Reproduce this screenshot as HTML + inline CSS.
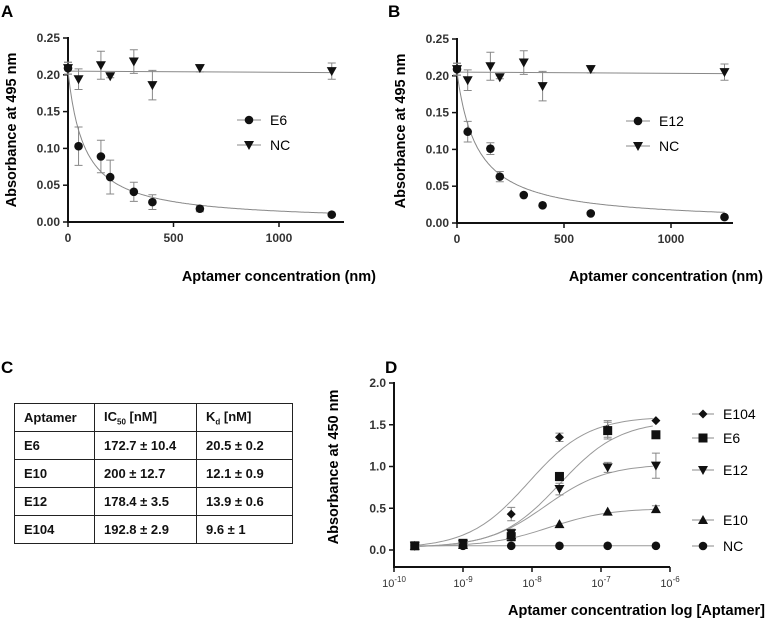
<!DOCTYPE html>
<html><head><meta charset="utf-8"><style>
body{margin:0;background:#fff;width:767px;height:621px;overflow:hidden;font-family:"Liberation Sans",sans-serif}
svg{position:absolute;left:0;top:0}
table{position:absolute;left:14px;top:403px;border-collapse:collapse;font-family:"Liberation Sans",sans-serif;font-weight:bold;font-size:13px;color:#111}
td{border:1.5px solid #222;height:27px;padding:0 0 0 9px;white-space:nowrap}
</style></head><body>
<svg id="fig" width="767" height="621" xmlns="http://www.w3.org/2000/svg" font-family="Liberation Sans, sans-serif"></svg>
<table>
<tr><td style="width:70px">Aptamer</td><td style="width:92px">IC<sub style="font-size:8px">50</sub> [nM]</td><td style="width:86px">K<sub style="font-size:8px">d</sub> [nM]</td></tr>
<tr><td>E6</td><td>172.7 ± 10.4</td><td>20.5 ± 0.2</td></tr>
<tr><td>E10</td><td>200 ± 12.7</td><td>12.1 ± 0.9</td></tr>
<tr><td>E12</td><td>178.4 ± 3.5</td><td>13.9 ± 0.6</td></tr>
<tr><td>E104</td><td>192.8 ± 2.9</td><td>9.6 ± 1</td></tr>
</table>
<script>
// Panel A/B data
const concAB=[0,50,156,200,312,400,625,1250];
const e6A=[0.209,0.103,0.089,0.061,0.041,0.027,0.018,0.010];
const e6AErr=[0.008,0.026,0.022,0.023,0.013,0.010,0.004,0.001];
const ncA=[0.209,0.194,0.213,0.198,0.218,0.186,0.209,0.205];
const ncAErr=[0.008,0.014,0.019,0.002,0.016,0.020,0.005,0.011];
const e12B=[0.209,0.124,0.101,0.063,0.038,0.024,0.013,0.008];
const e12BErr=[0.008,0.014,0.008,0.007,0.001,0.001,0.001,0.001];
const ncB=[0.209,0.194,0.213,0.198,0.218,0.186,0.209,0.205];
const ncBErr=[0.008,0.014,0.019,0.002,0.016,0.020,0.005,0.011];
const fitKA=[0.205,78]; const fitKB=[0.205,95];
const yTicksAB=["0.00","0.05","0.10","0.15","0.20","0.25"];
const xTicksAB=[0,500,1000];
// Panel D data
const concD=[2e-10,1e-9,5e-9,2.5e-8,1.25e-7,6.25e-7];
const e104D=[0.05,0.08,0.43,1.35,1.45,1.55];
const e6D=[0.05,0.08,0.16,0.88,1.43,1.38];
const e12D=[0.05,0.07,0.20,0.73,0.99,1.01];
const e10D=[0.05,0.06,0.18,0.31,0.46,0.49];
const ncD=[0.05,0.05,0.05,0.05,0.05,0.05];
const errD=[[0,0,0.08,0.05,0.1,0],[0,0,0.05,0.05,0.1,0],[0,0,0.05,0.07,0.06,0.15],[0,0,0,0,0,0.04],[0,0,0,0,0,0]];
// fit params: bottom, top, logEC50, hill
const fitD=[[0.02,1.6,-8.05,1.0],[0.03,1.55,-7.6,1.0],[0.03,1.03,-7.8,1.0],[0.04,0.5,-7.75,1.0],[0.05,0.05,-8,1]];
const yTicksD=["0.0","0.5","1.0","1.5","2.0"];
const xTicksD=[-10,-9,-8,-7,-6];
const namesD=["E104","E6","E12","E10","NC"];

const svg=document.getElementById('fig');const NS="http://www.w3.org/2000/svg";
function el(t,a,name,txt){const e=document.createElementNS(NS,t);for(const k in a)e.setAttribute(k,a[k]);


if(txt!==undefined)e.textContent=txt;svg.appendChild(e);return e;}
function marker(shape,x,y,name){
 if(shape==='circle')el('circle',{cx:x,cy:y,r:4.3,fill:'#111'},name);
 else if(shape==='tri-down')el('path',{d:`M${x-5},${y-4}L${x+5},${y-4}L${x},${y+5}Z`,fill:'#111'},name);
 else if(shape==='tri-up')el('path',{d:`M${x-5},${y+4}L${x+5},${y+4}L${x},${y-5}Z`,fill:'#111'},name);
 else if(shape==='square')el('rect',{x:x-4.5,y:y-4.5,width:9,height:9,fill:'#111'},name);
 else if(shape==='diamond')el('path',{d:`M${x},${y-4.5}L${x+4.5},${y}L${x},${y+4.5}L${x-4.5},${y}Z`,fill:'#111'},name);
}
function errbar(x,y1,y2,name){if(Math.abs(y2-y1)<1)return;el('path',{d:`M${x},${y1}V${y2}M${x-4},${y1}H${x+4}M${x-4},${y2}H${x+4}`,stroke:'#888','stroke-width':1,fill:'none'},name);}

function panelAB(o){
 const X=v=>o.x0+(v/1000)*(o.x1000-o.x0), Y=v=>o.y0-(v/0.25)*(o.y0-o.y25);
 el('text',{x:o.lx,y:17,'font-size':17,'font-weight':'bold'},o.id+'-panel-label',o.id);
 el('path',{d:`M${o.x0},${o.y25-1}V${o.y0}H${o.xe}`,stroke:'#111','stroke-width':2,fill:'none'},o.id+'-axes');
 yTicksAB.forEach((t,i)=>{const y=Y(i*0.05);el('line',{x1:o.x0-5,x2:o.x0,y1:y,y2:y,stroke:'#111','stroke-width':1.5},o.id+'-y-tick');
  el('text',{x:o.x0-8,y:y+4,'font-size':12,'font-weight':'bold','text-anchor':'end',fill:'#333'},o.id+'-y-tick-label',t);});
 xTicksAB.forEach(t=>{const x=X(t);el('line',{x1:x,x2:x,y1:o.y0,y2:o.y0+5,stroke:'#111','stroke-width':1.5},o.id+'-x-tick');
  el('text',{x:x,y:o.y0+20,'font-size':12,'font-weight':'bold','text-anchor':'middle',fill:'#333'},o.id+'-x-tick-label',t);});
 el('text',{x:o.x0-52,y:(o.y0+o.y25)/2,'font-size':14.5,'font-weight':'bold','text-anchor':'middle',transform:`rotate(-90 ${o.x0-52} ${(o.y0+o.y25)/2})`},o.id+'-y-axis-title','Absorbance at 495 nm');
 el('text',{x:o.xt,y:281,'font-size':14.5,'font-weight':'bold','text-anchor':'end'},o.id+'-x-axis-title','Aptamer concentration (nm)');
 let d='';for(let v=0;v<=1250;v+=5){d+=(v?'L':'M')+X(v).toFixed(1)+','+Y(o.fit[0]*o.fit[1]/(o.fit[1]+v)).toFixed(1);}
 el('path',{d,stroke:'#888','stroke-width':1,fill:'none'},o.id+'-fit-curve');
 el('path',{d:`M${X(0)},${Y(0.205)}L${X(1250)},${Y(0.203)}`,stroke:'#888','stroke-width':1,fill:'none'},o.id+'-nc-fit-line');
 concAB.forEach((c,i)=>{errbar(X(c),Y(o.nc[i]-o.ncE[i]),Y(o.nc[i]+o.ncE[i]),o.id+'-nc-error');marker('tri-down',X(c),Y(o.nc[i]),o.id+'-nc-point');
  errbar(X(c),Y(o.s[i]-o.sE[i]),Y(o.s[i]+o.sE[i]),o.id+'-error');marker('circle',X(c),Y(o.s[i]),o.id+'-'+o.name.toLowerCase()+'-point');});
 [[o.name,'circle',o.ly],['NC','tri-down',o.ly+25]].forEach(([n,s,y])=>{el('line',{x1:o.mx-12,x2:o.mx+12,y1:y,y2:y,stroke:'#888'},o.id+'-legend-line');
  marker(s,o.mx,y,o.id+'-legend-marker');el('text',{x:o.mx+21,y:y+5,'font-size':14},o.id+'-legend-entry',n);});
}
panelAB({id:'A',lx:1,x0:68,x1000:279,xe:344,y0:222,y25:38,xt:376,s:e6A,sE:e6AErr,nc:ncA,ncE:ncAErr,fit:fitKA,name:'E6',mx:249,ly:120});
panelAB({id:'B',lx:388,x0:457,x1000:671,xe:733,y0:223,y25:39,xt:763,s:e12B,sE:e12BErr,nc:ncB,ncE:ncBErr,fit:fitKB,name:'E12',mx:638,ly:121});

el('text',{x:1,y:373,'font-size':17,'font-weight':'bold'},'C-panel-label','C');
(function(){
 const x0=394,dec=69,y0=550,per=41.75;
 const X=l=>x0+(l+10)*dec, Y=v=>y0-v/0.5*per;
 el('text',{x:385,y:373,'font-size':17,'font-weight':'bold'},'D-panel-label','D');
 el('path',{d:`M${x0},${Y(2)-1}V567H670`,stroke:'#111','stroke-width':2,fill:'none'},'D-axes');
 yTicksD.forEach((t,i)=>{const y=Y(i*0.5);el('line',{x1:x0-5,x2:x0,y1:y,y2:y,stroke:'#111','stroke-width':1.5},'D-y-tick');
  el('text',{x:x0-8,y:y+4,'font-size':12,'font-weight':'bold','text-anchor':'end',fill:'#333'},'D-y-tick-label',t);});
 xTicksD.forEach(t=>{const x=X(t);el('line',{x1:x,x2:x,y1:567,y2:572,stroke:'#111','stroke-width':1.5},'D-x-tick');
  const tx=el('text',{x:x,y:587,'font-size':11,'text-anchor':'middle',fill:'#333'},'D-x-tick-label');
  tx.textContent='10';const ts=document.createElementNS(NS,'tspan');ts.setAttribute('dy','-5');ts.setAttribute('font-size','8');ts.textContent=String(t);tx.appendChild(ts);});
 el('text',{x:338,y:467,'font-size':14.5,'font-weight':'bold','text-anchor':'middle',transform:'rotate(-90 338 467)'},'D-y-axis-title','Absorbance at 450 nm');
 el('text',{x:765,y:615,'font-size':14.5,'font-weight':'bold','text-anchor':'end'},'D-x-axis-title','Aptamer concentration log [Aptamer]');
 const shapes=['diamond','square','tri-down','tri-up','circle'];const series=[e104D,e6D,e12D,e10D,ncD];
 const ly=[414,438,470,520,546];
 series.forEach((s,k)=>{const p=fitD[k];let d='';
  for(let l=Math.log10(2e-10);l<=Math.log10(6.25e-7)+1e-9;l+=0.05){const v=p[0]+(p[1]-p[0])/(1+Math.pow(10,(p[2]-l)*p[3]));d+=(d?'L':'M')+X(l).toFixed(1)+','+Y(v).toFixed(1);}
  el('path',{d,stroke:'#999','stroke-width':1,fill:'none'},'D-fit-'+namesD[k].toLowerCase());
  concD.forEach((c,i)=>{const l=Math.log10(c);errbar(X(l),Y(s[i]-errD[k][i]),Y(s[i]+errD[k][i]),'D-error');marker(shapes[k],X(l),Y(s[i]),'D-point-'+namesD[k].toLowerCase());});
  el('line',{x1:692,x2:714,y1:ly[k],y2:ly[k],stroke:'#888'},'D-legend-line');marker(shapes[k],703,ly[k],'D-legend-marker');
  el('text',{x:723,y:ly[k]+5,'font-size':14},'D-legend-entry',namesD[k]);});
})();
</script>
</body></html>
